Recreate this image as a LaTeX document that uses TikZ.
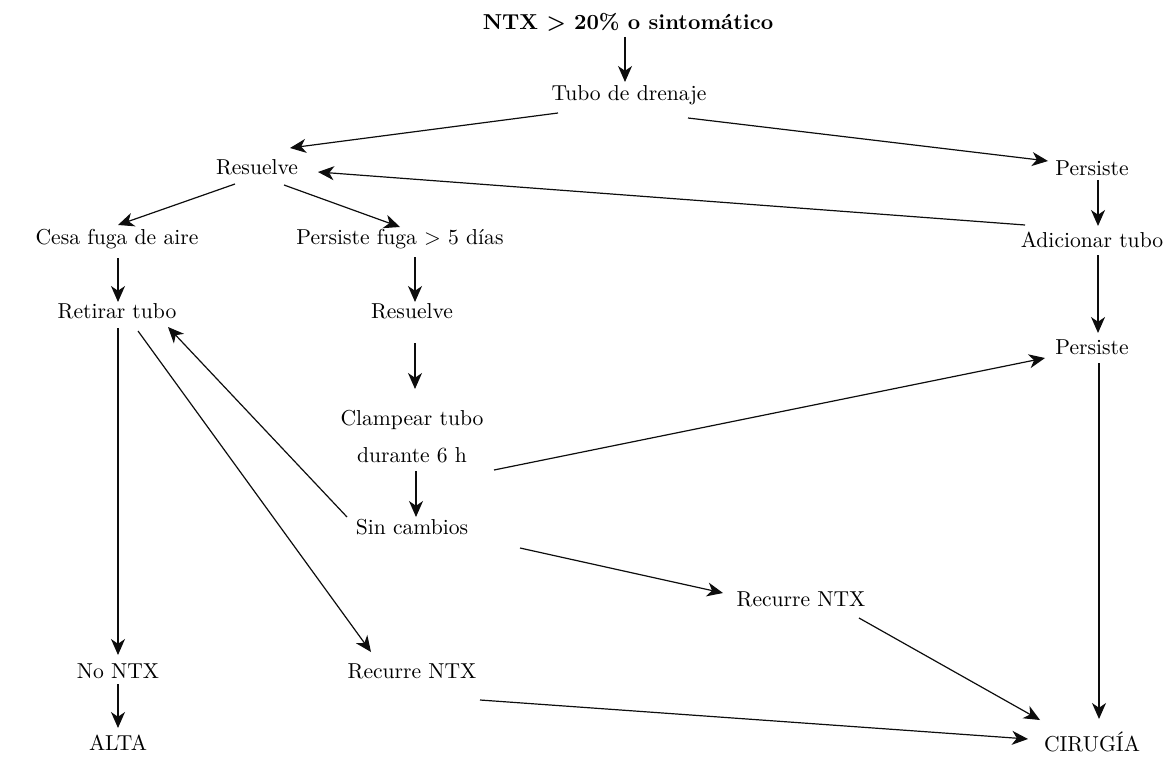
\documentclass[tikz,border=0pt]{standalone}
\usetikzlibrary{arrows.meta,calc}
\begin{document}
\begin{tikzpicture}[x=0.5pt,y=-0.5pt,
  lbl/.style={inner sep=0pt, font=\fontsize{10.8}{18.5}\selectfont, text=black, align=center},
  arr/.style={line width=0.6pt, draw=black!95, -{Stealth[length=8pt,width=7pt,inset=2.4pt]}}]
\useasboundingbox (0,0) rectangle (1170,759);
% nodes
\node[lbl, font=\fontsize{10.8}{18.5}\selectfont\bfseries] (title) at (628,22) {NTX > 20\% o sintomático};
\node[lbl] (tubo)  at (629,95)  {Tubo de drenaje};
\node[lbl] (res1)  at (257,167) {Resuelve};
\node[lbl] (per1)  at (1092,168) {Persiste};
\node[lbl] (cesa)  at (117,239) {Cesa fuga de aire};
\node[lbl] (pfuga) at (400,239) {Persiste fuga > 5 días};
\node[lbl] (adi)   at (1092,240) {Adicionar tubo};
\node[lbl] (ret)   at (117,311) {Retirar tubo};
\node[lbl] (resm)  at (412,311) {Resuelve};
\node[lbl] (perm)  at (1092,347) {Persiste};
\node[lbl] (clamp) at (412,437) {Clampear tubo\\durante 6 h};
\node[lbl] (sinc)  at (412,527) {Sin cambios};
\node[lbl] (rec2)  at (801,599) {Recurre NTX};
\node[lbl] (nontx) at (118,671) {No NTX};
\node[lbl] (rec1)  at (412,671) {Recurre NTX};
\node[lbl] (alta)  at (118,743) {ALTA};
\node[lbl] (cir)   at (1092,742) {CIRUGÍA};
% connectors
\draw[arr] ($(title)+(-3,15)$) -- ($(tubo)+(-4,-13)$);
\draw[arr] ($(tubo)+(-71,18)$) -- ($(res1)+(33,-19)$);
\draw[arr] ($(tubo)+(59,23)$) -- ($(per1)+(-44,-7)$);
\draw[arr] ($(adi)+(-67,-15)$) -- ($(res1)+(61,5)$);
\draw[arr] ($(per1)+(6,12)$) -- ($(adi)+(6,-14)$);
\draw[arr] ($(res1)+(-22,17)$) -- ($(cesa)+(1,-14)$);
\draw[arr] ($(res1)+(27,18)$) -- ($(pfuga)+(0,-12)$);
\draw[arr] ($(cesa)+(1,19)$) -- ($(ret)+(1,-9)$);
\draw[arr] ($(pfuga)+(15,18)$) -- ($(resm)+(3,-9)$);
\draw[arr] ($(resm)+(3,32)$) -- ($(clamp)+(3,-48)$);
\draw[arr] ($(clamp)+(4,34)$) -- ($(sinc)+(4,-10)$);
\draw[arr] ($(adi)+(6,15)$) -- ($(perm)+(6,-14)$);
\draw[arr] ($(clamp)+(82,33)$) -- ($(perm)+(-47,11)$);
\draw[arr] ($(sinc)+(-65,-10)$) -- ($(ret)+(51,16)$);
\draw[arr] ($(ret)+(21,20)$) -- ($(rec1)+(-41,-19)$);
\draw[arr] ($(ret)+(1,17)$) -- ($(nontx)+(0,-16)$);
\draw[arr] ($(nontx)+(0,13)$) -- ($(alta)+(0,-15)$);
\draw[arr] ($(sinc)+(108,21)$) -- ($(rec2)+(-78,-6)$);
\draw[arr] ($(rec2)+(58,19)$) -- ($(cir)+(-52,-22)$);
\draw[arr] ($(perm)+(7,16)$) -- ($(cir)+(7,-23)$);
\draw[arr] ($(rec1)+(68,29)$) -- ($(cir)+(-64,-3)$);
\end{tikzpicture}
\end{document}
